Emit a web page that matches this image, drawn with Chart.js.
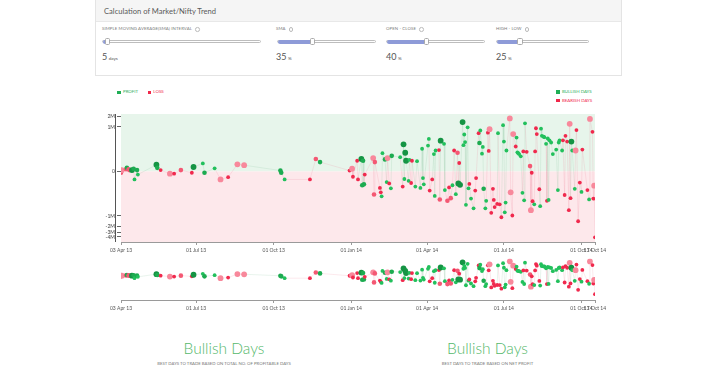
<!DOCTYPE html>
<html><head><meta charset="utf-8">
<script src="https://cdn.jsdelivr.net/npm/chart.js@4.4.0/dist/chart.umd.min.js"></script>
<style>
html,body{margin:0;padding:0}
body{width:708px;height:375px;background:#fff;font-family:Lato,"Open Sans",sans-serif;position:relative;overflow:hidden}
.t{position:absolute;white-space:nowrap;line-height:1}
.panel{position:absolute;left:95px;top:-1px;width:527px;height:77px;border:1px solid #e4e4e4;box-sizing:border-box}
.panel-h{height:21px;background:#f5f5f5;border-bottom:1px solid #e8e8e8;font-size:7.6px;color:#5a5a5a;line-height:23px;padding-left:8px}
.lbl{font-size:4.3px;color:#7a7a7a;letter-spacing:0.1px;top:27.3px}
.info{display:inline-block;width:2.6px;height:2.6px;border:0.7px solid #bbb;border-radius:50%;margin-left:3px;vertical-align:middle}
.track{position:absolute;top:40px;height:3.4px;border:0.8px solid #bdbdbd;border-radius:2px;background:#fff;box-sizing:border-box}
.fill{position:absolute;left:0;top:-0.8px;height:3.4px;background:#8e9bd8;border-radius:2px}
.handle{position:absolute;top:38.2px;width:5.5px;height:6.5px;background:#fff;border:0.8px solid #aaa;border-radius:1.5px;box-sizing:border-box}
.val{font-size:9px;color:#555;top:52px}
.val small{font-size:4.6px;margin-left:1.5px}
.sq{position:absolute;width:3.5px;height:3.5px}
.leg{font-size:4.4px}
.big{font-size:15.5px;color:#55b86b;font-weight:300;top:341px;transform:translateX(-50%)}
.sub{font-size:4.3px;color:#777;top:362px;transform:translateX(-50%)}
canvas{position:absolute;left:0}
</style></head>
<body>
<div class="panel"><div class="panel-h">Calculation of Market/Nifty Trend</div></div>

<div class="t lbl" style="left:102px">SIMPLE MOVING AVERAGE(SMA) INTERVAL<span class="info"></span></div>
<div class="track" style="left:102px;width:159px"><div class="fill" style="width:3%"></div></div>
<div class="handle" style="left:104.5px"></div>
<div class="t val" style="left:102px">5<small>days</small></div>

<div class="t lbl" style="left:276px">SMA<span class="info"></span></div>
<div class="track" style="left:277px;width:99px"><div class="fill" style="width:35%"></div></div>
<div class="handle" style="left:309.5px"></div>
<div class="t val" style="left:276px">35<small>%</small></div>

<div class="t lbl" style="left:386px">OPEN - CLOSE<span class="info"></span></div>
<div class="track" style="left:386px;width:99px"><div class="fill" style="width:40%"></div></div>
<div class="handle" style="left:423.5px"></div>
<div class="t val" style="left:386px">40<small>%</small></div>

<div class="t lbl" style="left:496px">HIGH - LOW<span class="info"></span></div>
<div class="track" style="left:496px;width:93px"><div class="fill" style="width:25%"></div></div>
<div class="handle" style="left:517px"></div>
<div class="t val" style="left:496px">25<small>%</small></div>

<div class="sq" style="left:117px;top:90.8px;background:#1fae55"></div>
<div class="t leg" style="left:123px;top:90.4px;color:#2aae5a">PROFIT</div>
<div class="sq" style="left:147.5px;top:90.8px;background:#f0284a"></div>
<div class="t leg" style="left:153.3px;top:90.4px;color:#f0284a">LOSS</div>

<div class="sq" style="left:556px;top:90.3px;background:#1fae55"></div>
<div class="t leg" style="left:562px;top:90px;color:#2aae5a">BULLISH DAYS</div>
<div class="sq" style="left:556px;top:98.8px;background:#f0284a"></div>
<div class="t leg" style="left:562px;top:98.5px;color:#f0284a">BEARISH DAYS</div>

<canvas id="main" width="708" height="158" style="top:100px"></canvas>
<canvas id="mini" width="708" height="60" style="top:255px"></canvas>

<div class="t big" style="left:224px">Bullish Days</div>
<div class="t sub" style="left:224px">BEST DAYS TO TRADE BASED ON TOTAL NO. OF PROFITABLE DAYS</div>
<div class="t big" style="left:487.5px">Bullish Days</div>
<div class="t sub" style="left:487.5px">BEST DAYS TO TRADE BASED ON NET PROFIT</div>

<script>
// ---- data ----
const START_DATE = '2013-04-03';
const tickDates = ['2013-04-03','2013-07-01','2013-10-01','2014-01-01','2014-04-01','2014-07-01','2014-10-01','2014-10-17'];
const yTicksM = [-4,-3,-2,-1,0,1,2];

// trading day, counted in days since START_DATE
const dayOffsets = [
0,1,6,7,9,10,13,15,16,19,20,42,43,47,58,63,71,84,86,97,99,111,118,127,138,146,189,190,194,224,231,236,
271,274,275,280,281,285,286,287,288,289,
299,300,301,307,308,309,310,313,315,316,
318,320,321,331,334,335,336,337,338,341,
342,344,345,349,351,355,357,358,359,364,
365,366,369,371,372,373,377,378,379,383,
384,387,389,391,393,395,397,399,400,401,
402,405,406,407,408,409,411,412,413,415,
418,420,421,424,425,426,428,429,430,432,
433,435,436,437,439,441,442,443,446,447,
449,451,453,454,455,456,457,461,462,464,
465,468,469,470,471,472,474,476,477,478,
479,481,485,486,487,488,490,491,492,493,
496,497,498,499,501,502,504,505,506,507,
508,510,512,516,518,519,520,523,524,526,
527,529,531,532,533,534,535,538,539,540,
542,544,546,547,553,555,556,559,560,561,562];

// market move, millions
const moveM = [
-0.03,0.03,0.05,0.08,0.05,0.03,0.03,0.06,-0.18,0.03,-0.07,0.15,0.08,0.03,-0.05,-0.05,0.03,-0.03,0.10,0.18,-0.03,0.07,-0.18,-0.13,0.16,0.14,0.02,-0.03,-0.18,-0.18,0.28,0.21,
0.02,0.06,-0.12,0.24,-0.18,0.28,-0.31,0.24,-0.29,-0.07,
0.30,-0.52,0.21,-0.37,-0.47,-0.56,0.41,0.27,-0.24,0.30,
-0.27,-0.38,0.35,0.32,-0.34,0.61,-0.17,0.42,0.24,-0.21,
0.26,-0.26,0.24,-0.34,0.23,-0.37,0.51,-0.15,-0.29,0.58,
0.73,-0.43,-0.18,0.39,-0.55,0.47,0.48,-0.63,0.69,0.62,
-0.42,-0.66,-0.36,-0.60,-0.31,0.47,-0.51,0.42,-0.27,0.19,
-0.30,1.38,0.59,0.83,0.66,-0.75,0.99,-0.38,-0.28,-0.61,
-0.83,-0.43,-0.15,0.86,0.64,0.92,0.40,0.55,-0.39,-0.83,
-0.66,0.87,0.46,0.95,-0.93,-0.39,-0.64,-0.80,-0.73,0.86,
-0.74,-1.09,1.12,0.67,-0.92,-0.70,0.47,1.75,-0.47,-0.99,
0.84,0.56,0.76,0.43,0.41,0.39,0.34,-0.48,0.45,-0.65,
1.27,0.44,0.12,-0.87,-0.03,-0.67,-0.74,0.45,0.97,0.84,
-0.40,-0.78,0.96,0.80,0.78,0.77,0.62,-0.66,0.74,-0.64,
0.70,0.65,0.39,0.49,-0.42,0.65,0.70,0.47,0.70,-0.53,
0.80,0.67,-0.87,1.23,-0.60,0.67,0.47,-0.39,0.47,0.93,
-1.42,-0.25,-0.46,0.49,-0.42,-0.63,1.70,0.89,-0.61,-0.32,-4.1];

// P = profit day, L = loss day
const outcomes = [
'L','L','L','P','L','L','P','P','P','P','P','P','P','L','L','L','L','L','P','P','P','P','L','L','L','L','P','P','P','L','L','P',
'L','L','L','L','L','P','P','P','P','L',
'L','L','L','L','L','P','P','P','P','L',
'L','P','P','P','L','P','P','P','P','P',
'P','L','L','P','P','P','P','P','P','P',
'P','L','L','P','P','P','L','L','P','P',
'P','L','L','L','P','L','P','L','P','L',
'P','P','P','P','P','P','P','P','L','P',
'P','L','L','L','P','P','P','P','P','P',
'P','L','L','L','L','L','L','L','L','P',
'L','L','P','P','P','P','P','L','L','L',
'L','L','P','P','P','P','P','P','L','P',
'P','L','L','L','L','L','P','L','L','L',
'L','P','P','P','P','P','P','L','P','P',
'P','P','P','P','P','P','P','P','L','L',
'L','L','L','L','L','P','P','P','L','L',
'L','L','P','L','L','P','L','L','L','L','L'];

// relative trade volume (1 low .. 3 high)
const volumes = [
2,3,2,2,2,2,3,2,1,2,1,3,2,1,3,1,2,1,3,1,2,1,3,1,3,3,2,2,1,1,2,2,
1,3,1,1,1,3,2,2,2,1,
3,2,2,1,1,1,1,2,1,3,
1,1,2,1,1,3,1,3,3,1,
1,1,1,1,1,1,1,1,1,1,
1,1,1,1,1,1,1,2,3,1,
1,2,1,2,1,1,1,2,3,1,
3,3,1,1,1,1,1,1,1,1,
1,1,1,1,2,1,1,1,2,1,
1,1,1,3,1,1,1,1,1,1,
1,1,1,1,1,1,1,3,3,1,
3,1,1,1,1,1,1,1,1,1,
1,1,2,3,1,1,1,1,1,1,
1,1,1,1,1,1,1,1,1,1,
1,1,1,1,1,1,1,1,1,1,
1,1,1,3,1,3,1,1,3,1,
1,1,1,1,1,1,3,1,1,3,1];

// ---- helpers ----
const DAY = 86400000;
const t0 = Date.parse(START_DATE + 'T00:00:00Z');
const toDay = s => Math.round((Date.parse(s + 'T00:00:00Z') - t0) / DAY);
const MONTHS = ['Jan','Feb','Mar','Apr','May','Jun','Jul','Aug','Sep','Oct','Nov','Dec'];
function fmtDay(d){ const dt = new Date(t0 + d*DAY); return String(dt.getUTCDate()).padStart(2,'0')+' '+MONTHS[dt.getUTCMonth()]+' '+String(dt.getUTCFullYear()).slice(2); }
// compressed (log beyond 1M) value axis
function u(v){ const a = Math.abs(v); return a <= 1 ? v : Math.sign(v)*(1 + 0.34*Math.log(a)); }
const tickDays = tickDates.map(toDay);
const lastDay = tickDays[tickDays.length-1];

const pts = dayOffsets.map((d,i)=>({x:d, y:u(moveM[i])}));
const PCOL = {1:'#22c05c',2:'#1cab50',3:'#159444'};
const LCOL = {1:'#f0294d',2:'#f45873',3:'#f8889b'};
const RAD = {1:1.9,2:2.3,3:2.9};
const colors = outcomes.map((o,i)=> o==='P' ? PCOL[volumes[i]] : LCOL[volumes[i]]);
const radii = volumes.map(v=>RAD[v]);
const segColor = ctx => outcomes[ctx.p1DataIndex]==='P' ? 'rgba(120,185,140,0.16)' : 'rgba(235,120,140,0.16)';

function dataset(){
  return {data:pts, showLine:true, borderWidth:1, segment:{borderColor:segColor}, borderColor:'rgba(200,200,200,0.2)',
    pointRadius:radii, pointHoverRadius:radii, pointBackgroundColor:colors, pointBorderWidth:0, tension:0};
}
const xAxis = (h)=>({type:'linear', min:0, max:lastDay,
  afterBuildTicks:s=>{ s.ticks = tickDays.map(v=>({value:v})); },
  afterFit:s=>{ s.height = h; },
  ticks:{autoSkip:false, maxRotation:0, minRotation:0, padding:2, font:{size:5, family:'Lato'}, color:'#555', callback:v=>fmtDay(v)},
  grid:{drawOnChartArea:false, tickLength:3, color:'#9a9a9a'}, border:{color:'#9a9a9a'}});

const bands = {id:'bands', beforeDraw(c){
  const {ctx, chartArea:a, scales:{y}} = c; const y0 = y.getPixelForValue(0);
  ctx.save();
  ctx.fillStyle = '#e7f5eb'; ctx.fillRect(a.left, a.top, a.right-a.left, y0-a.top);
  ctx.fillStyle = '#fde8eb'; ctx.fillRect(a.left, y0, a.right-a.left, a.bottom-y0);
  ctx.restore();
}, afterDraw(c){
  const {ctx, chartArea:a} = c;
  ctx.save(); ctx.strokeStyle='#555'; ctx.lineWidth=1;
  ctx.beginPath(); ctx.moveTo(a.left-5.5, a.top); ctx.lineTo(a.left-5.5, a.bottom); ctx.stroke(); ctx.restore();
}};

new Chart(document.getElementById('main'), {
  type:'scatter',
  data:{datasets:[dataset()]},
  options:{responsive:false, animation:false, devicePixelRatio:1, events:[],
    layout:{padding:{left:96, right:113, top:14, bottom:4}},
    plugins:{legend:{display:false}, tooltip:{enabled:false}},
    scales:{
      x: xAxis(12),
      y:{min:u(-5.6), max:u(2.35),
        afterBuildTicks:s=>{ s.ticks = yTicksM.map(v=>({value:u(v)})); },
        afterFit:s=>{ s.width = 25; },
        ticks:{autoSkip:false, padding:2, font:{size:5, family:'Lato'}, color:'#444',
          callback:(v,i)=> yTicksM[i]===0 ? '0' : yTicksM[i]+'M'},
        grid:{drawOnChartArea:false, tickLength:4, color:'#666'}, border:{display:false}}
    }},
  plugins:[bands]
});

new Chart(document.getElementById('mini'), {
  type:'scatter',
  data:{datasets:[dataset()]},
  options:{responsive:false, animation:false, devicePixelRatio:1, events:[],
    layout:{padding:{left:121, right:113, top:3.5, bottom:3}},
    plugins:{legend:{display:false}, tooltip:{enabled:false}},
    scales:{ x: xAxis(12), y:{display:false, min:-1.95, max:1.422} }}
});
</script>
</body></html>
